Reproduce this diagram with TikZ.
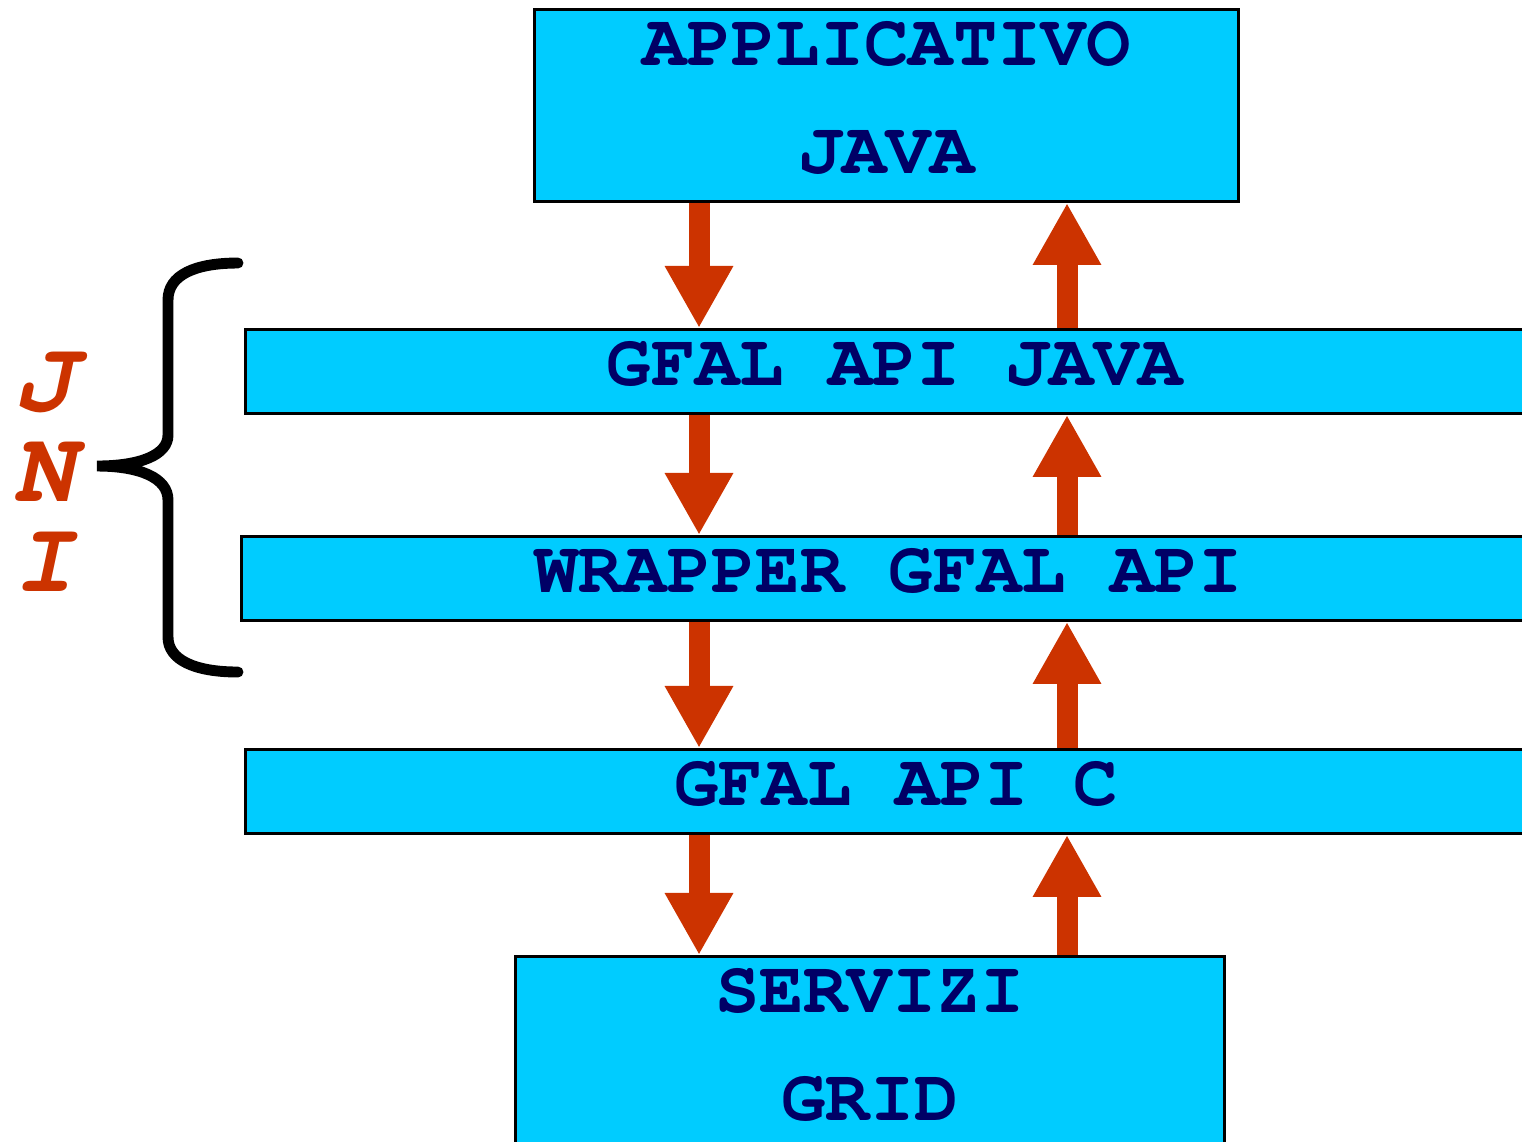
\documentclass[tikz,border=0pt]{standalone}
\usepackage{fontspec}
\setmonofont{TeX Gyre Cursor}
\usetikzlibrary{arrows.meta}

\definecolor{bandcyan}{RGB}{0,204,255}
\definecolor{labelnavy}{RGB}{0,0,102}
\definecolor{flowred}{RGB}{204,51,0}

\tikzset{
  layer/.style={draw=black, line width=0.8pt, fill=bandcyan, text=labelnavy,
    anchor=north west, inner sep=0pt, align=center, text depth=0.16cm,
    font=\fontsize{21}{30.5}\selectfont\ttfamily\bfseries},
  flow/.style={draw=flowred, line width=0.21cm,
    -{Triangle[length=0.62cm, width=0.64cm]}},
  jni/.style={text=flowred, inner sep=0pt, align=center,
    font=\fontsize{29}{25.6}\selectfont\ttfamily\bfseries\itshape},
}

\begin{document}
\begin{tikzpicture}[x=0.01cm, y=-0.01cm]
        \useasboundingbox (0, 0) rectangle (1522, 1141);
        \clip (0, 0) rectangle (1522, 1141);

        % the layers, top to bottom
        \node[layer, minimum width=7.04cm, minimum height=1.92cm] (appjava) at (533, 8) {APPLICATIVO\\JAVA};
        \node[layer, minimum width=12.98cm, minimum height=0.84cm] (gfaljava) at (244, 328) {GFAL API JAVA};
        \node[layer, minimum width=12.94cm, minimum height=0.84cm] (wrapper) at (240, 535) {WRAPPER GFAL API};
        \node[layer, minimum width=13.00cm, minimum height=0.84cm] (gfalc) at (244, 748) {GFAL API C};
        \node[layer, minimum width=7.09cm, minimum height=1.92cm] (servizi) at (514, 955) {SERVIZI\\GRID};

        % calls go down on the left, results come back up on the right
        \coordinate (down) at (699, 0);
        \coordinate (up) at (1067, 0);
        \foreach \a/\b in {appjava/gfaljava, gfaljava/wrapper, wrapper/gfalc, gfalc/servizi} {
            \draw[flow] (\a.south -| down) -- (\b.north -| down);
            \draw[flow] (\b.north -| up) -- (\a.south -| up);
        }

        % brace over the two JNI layers
        \draw[line width=3.1pt, line cap=round] (238, 263)
            .. controls (195, 263) and (168, 275) .. (168, 300) -- (168, 435)
            .. controls (168, 455) and (140, 466) .. (97, 466)
            .. controls (140, 466) and (168, 478) .. (168, 500) -- (168, 637)
            .. controls (168, 660) and (195, 672) .. (238, 672);
        \node[jni] (jni) at (44, 472) {J\\N\\I};
    \end{tikzpicture}
\end{document}
